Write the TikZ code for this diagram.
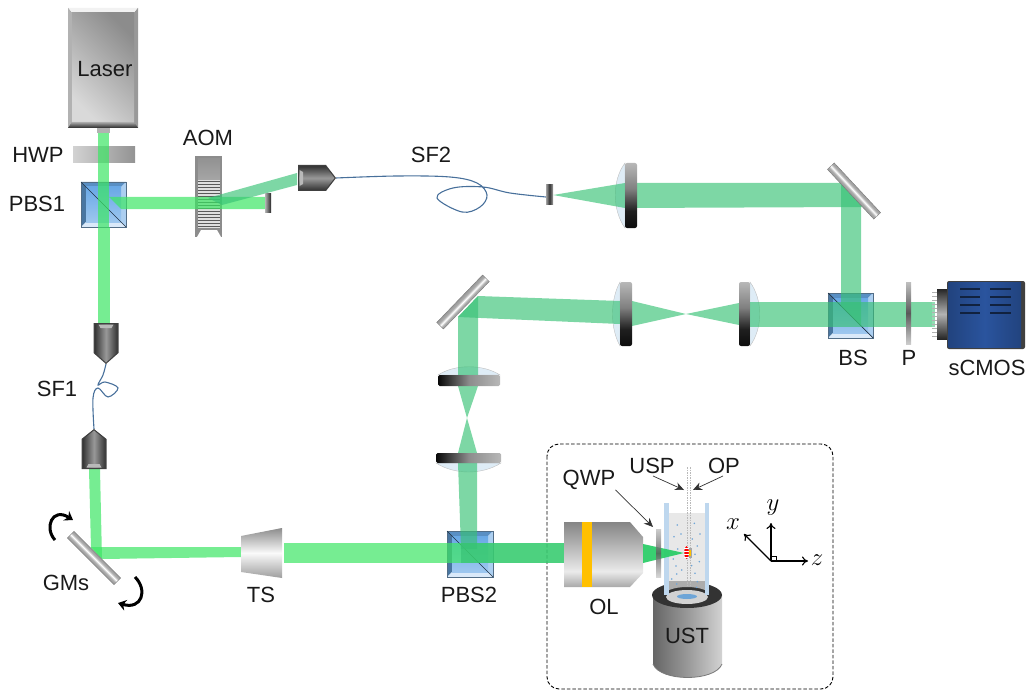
\documentclass[tikz,border=0pt]{standalone}
\usepackage{xcolor}
\usepackage{fontspec}
\setmainfont{Liberation Sans}
\usepackage{tikz}
\usetikzlibrary{arrows.meta}

\definecolor{beamin}{RGB}{60,230,100}
\definecolor{beamout}{RGB}{55,193,117}
\definecolor{cubeface}{RGB}{105,168,230}
\definecolor{camblue}{RGB}{42,84,158}
\definecolor{glass}{RGB}{222,236,246}
\definecolor{wall}{RGB}{190,215,238}
\definecolor{olband}{RGB}{255,192,0}
\definecolor{scatter}{RGB}{110,165,215}
\definecolor{fibreblue}{RGB}{72,112,155}
\definecolor{conegreen}{RGB}{45,205,105}

\pgfdeclareverticalshading{olbody}{100bp}{rgb(0bp)=(.66,.66,.66); rgb(25bp)=(.66,.66,.66); rgb(37bp)=(.92,.92,.92); rgb(50bp)=(.78,.78,.78); rgb(75bp)=(.52,.52,.52); rgb(100bp)=(.52,.52,.52)}
\pgfdeclareverticalshading{tsbody}{100bp}{rgb(0bp)=(.62,.62,.62); rgb(25bp)=(.62,.62,.62); rgb(50bp)=(.98,.98,.98); rgb(75bp)=(.55,.55,.55); rgb(100bp)=(.55,.55,.55)}
\pgfdeclareverticalshading{plate}{100bp}{rgb(0bp)=(.8,.8,.8); rgb(25bp)=(.8,.8,.8); rgb(50bp)=(.35,.35,.35); rgb(75bp)=(.75,.75,.75); rgb(100bp)=(.75,.75,.75)}
\pgfdeclareverticalshading{mirrorbody}{100bp}{rgb(0bp)=(.6,.6,.6); rgb(25bp)=(.6,.6,.6); rgb(38bp)=(.68,.68,.68); rgb(50bp)=(1,1,1); rgb(62bp)=(.68,.68,.68); rgb(75bp)=(.6,.6,.6); rgb(100bp)=(.6,.6,.6)}
\pgfdeclareverticalshading{collimbody}{100bp}{rgb(0bp)=(.22,.22,.22); rgb(25bp)=(.22,.22,.22); rgb(50bp)=(.6,.6,.6); rgb(75bp)=(.22,.22,.22); rgb(100bp)=(.22,.22,.22)}
\pgfdeclareverticalshading{stripv}{100bp}{rgb(0bp)=(.05,.05,.05); rgb(25bp)=(.05,.05,.05); rgb(38bp)=(.12,.12,.12); rgb(55bp)=(.5,.5,.5); rgb(75bp)=(.72,.72,.72); rgb(100bp)=(.72,.72,.72)}
\pgfdeclarehorizontalshading{striph}{100bp}{rgb(0bp)=(.03,.03,.03); rgb(25bp)=(.03,.03,.03); rgb(50bp)=(.55,.55,.55); rgb(75bp)=(.72,.72,.72); rgb(100bp)=(.72,.72,.72)}

\tikzset{
  lbl/.style={font=\fontsize{22}{25}\selectfont, inner sep=0pt, text=black!90},
  lblmath/.style={font=\fontsize{24}{26}\selectfont, inner sep=0pt},
  inbeam/.style={fill=beamin, fill opacity=.7},
  outbeam/.style={fill=beamout, fill opacity=.65},
  lensglass/.style={fill=glass, draw=gray!50, line width=.4pt},
  lensstripv/.style={shading=stripv, rounded corners=2pt},
  lensstriph/.style={shading=striph, rounded corners=1.5pt},
  fibre/.style={draw=fibreblue, line width=1.1pt},
  pointer/.style={draw=black!80, line width=.7pt, -{Stealth[length=9pt,width=8pt]}},
  axisline/.style={draw=black, line width=1.1pt, -{To[length=6pt,width=9pt]}},
  rotarrow/.style={draw=black, line width=3pt, -{Stealth[length=8pt,width=11pt]}},
  plane/.style={draw=gray!55, line width=.6pt, dash pattern=on 1.5pt off 1pt}
}

% cube with bevels: left, top, size
\newcommand{\bluecube}[3]{
  \begin{scope}[shift={(#1,#2)}]
    \fill[cubeface!85!black] (0,0) -- (#3,0) -- (#3-5,5) -- (5,5) -- cycle;
    \fill[cubeface!70!black] (0,0) -- (5,5) -- (5,#3-5) -- (0,#3) -- cycle;
    \fill[cubeface!55!white] (#3,0) -- (#3,#3) -- (#3-5,#3-5) -- (#3-5,5) -- cycle;
    \fill[cubeface!25!white] (0,#3) -- (#3,#3) -- (#3-5,#3-5) -- (5,#3-5) -- cycle;
    \shade[top color=cubeface, bottom color=cubeface!65!white] (5,5) rectangle (#3-5,#3-5);
    \draw[black!40!cubeface!70!gray, line width=.6pt] (0,0) rectangle (#3,#3);
    \draw[black!70!cubeface, line width=.7pt] (0,0) -- (#3,#3);
  \end{scope}
}
% fibre collimator: back centre x, y, rotation, length, half width, tip length
\newcommand{\collim}[6]{
  \begin{scope}[transform canvas={shift={(#1,#2)},rotate=#3}]
    \fill[black!75] (0,-#5) -- (#4-#6,-#5) -- (#4,0) -- (#4-#6,#5) -- (0,#5) -- cycle;
    \shade[shading=collimbody] (1.5,-#5+1.5) -- (#4-#6-.5,-#5+1.5) -- (#4-1.5,0) -- (#4-#6-.5,#5-1.5) -- (1.5,#5-1.5) -- cycle;
    \fill[gray!55] (1.5,-#5+5) -- (5,-#5+7) -- (5,#5-7) -- (1.5,#5-5) -- cycle;
  \end{scope}
}
% mirror: centre x, y, rotation, half length, half width
\newcommand{\mirrorplate}[5]{
  \begin{scope}[transform canvas={shift={(#1,#2)},rotate=#3}]
    \shade[shading=mirrorbody] (-#4,-#5) rectangle (#4,#5);
    \draw[gray!90!black, line width=.3pt] (-#4,-#5) rectangle (#4,#5);
  \end{scope}
}

\begin{document}
\begin{tikzpicture}[x=1pt,y=-1pt]
  \useasboundingbox (0,0) rectangle (1026,690);
  \draw[black, line width=.9pt, dash pattern=on 3.5pt off 2pt, rounded corners=12pt] (547,444) rectangle (833,689);

  % parts under the beams
  \shade[left color=gray!35, right color=gray!85] (73,147) rectangle (135,163);
  \fill[gray!110!black] (195,156) rectangle (222,237);
  \shade[top color=gray!85, bottom color=gray!70] (198,159) rectangle (220,180);
  \fill[gray!25] (198,180) rectangle (220,228);
  \foreach \yy in {181,184,...,226}
    \draw[black!65, line width=.6pt] (198,\yy) -- (220,\yy);
  \fill[white] (197,237) -- (201,230) -- (217,230) -- (221,237) -- cycle;
  \bluecube{81}{182}{45}
  \bluecube{828}{293}{45}
  \bluecube{447}{531}{46}
  \filldraw[lensglass] (625,163) .. controls (612,180) and (612,210) .. (625,228) -- cycle;
  \filldraw[lensglass] (620,282) .. controls (610,300) and (610,328) .. (620,346) -- cycle;
  \filldraw[lensglass] (750,282) .. controls (763,300) and (763,328) .. (750,346) -- cycle;
  \filldraw[lensglass] (438,375) .. controls (455,364) and (483,364) .. (500,375) -- cycle;
  \filldraw[lensglass] (436,463) .. controls (455,475) and (482,475) .. (501,463) -- cycle;

  % beams, from the laser on
  \fill[inbeam] (98,132) rectangle (109,227);
  \fill[inbeam] (98,227) rectangle (110,323);
  \fill[inbeam] (109,197) -- (265,197) -- (265,209) -- (121,209) -- cycle;
  \fill[outbeam] (208,198) -- (297,173) -- (297,185) -- (222,205) -- cycle;
  \fill[inbeam] (89,469) -- (100,469) -- (102,559) -- (91,548) -- cycle;
  \fill[inbeam] (91,547) -- (241,547) -- (241,557) -- (102,559) -- cycle;
  \fill[inbeam] (284,543) rectangle (564,563);
  \fill[outbeam] (553,195) -- (625,183) -- (625,208) -- cycle;
  \fill[outbeam] (625,183) -- (841,183) -- (863,207) -- (625,208) -- cycle;
  \fill[outbeam] (841,183) -- (861,205) -- (861,326) -- (841,306) -- cycle;
  \fill[outbeam] (750,302) rectangle (935,327);
  \fill[outbeam] (686,314) -- (739,303) -- (739,325) -- cycle;
  \fill[outbeam] (686,314) -- (632,301) -- (632,326) -- cycle;
  \fill[outbeam] (620,301) -- (478,296) -- (458,317) -- (620,324) -- cycle;
  \fill[outbeam] (458,317) -- (478,296) -- (478,375) -- (458,375) -- cycle;
  \fill[outbeam] (458,386) -- (478,386) -- (467,418) -- cycle;
  \fill[outbeam] (467,418) -- (477,453) -- (458,453) -- cycle;
  \fill[outbeam] (458,463) -- (477,463) -- (477,549) -- (461,549) -- cycle;
  \fill[outbeam] (461,543) rectangle (564,563);

  % lens strips and plates over the beams
  \shade[lensstripv] (625,163) rectangle (637,228);
  \shade[lensstripv] (620,282) rectangle (632,346);
  \shade[lensstripv] (739,282) rectangle (750,346);
  \shade[lensstriph] (438,375) rectangle (500,386);
  \shade[lensstriph] (436,453) rectangle (501,463);
  \shade[shading=plate] (906,282) rectangle (911,344);
  \shade[left color=gray!60, right color=black!85] (265,194) rectangle (271,212);

  % laser head
  \fill[gray!60] (97,128) rectangle (110,133);
  \fill[black!55] (68,8) rectangle (138,128);
  \fill[gray!10] (68,8) -- (138,8) -- (134,13) -- (72,13) -- cycle;
  \fill[gray!60] (68,8) -- (72,13) -- (72,122) -- (68,128) -- cycle;
  \fill[gray!80] (138,8) -- (134,13) -- (134,122) -- (138,128) -- cycle;
  \shade[left color=gray!30, right color=gray!90, shading angle=135] (72,13) rectangle (134,122);
  \shade[top color=gray!65, bottom color=black!85] (72,122) -- (134,122) -- (138,128) -- (68,128) -- cycle;

  % fibres
  \coordinate (sftopout) at (106,364);
  \coordinate (sfbotin) at (94,429);
  \coordinate (sftwoout) at (336,178);
  \coordinate (sftwoin) at (546,197);
  \draw[fibre] plot[smooth, tension=.6] coordinates {(sftopout) (103,375) (98,385) (105,382) (118,388) (108,397) (98,388) (93,398) (sfbotin)};
  \draw[fibre] plot[smooth, tension=.6] coordinates {(sftwoout) (397,176) (450,177) (477,183) (487,195) (480,207) (462,212) (437,198) (453,188) (483,187) (510,193) (sftwoin)};
  \collim{298}{178}{0}{38}{13}{10}
  \collim{106}{323}{-90}{41}{12.5}{11}
  \collim{94}{469}{90}{40}{12.5}{10}
  \shade[left color=gray!75, right color=gray!75, middle color=black!80] (546,185) rectangle (553,204);

  % mirrors
  \mirrorplate{854}{191}{-47}{34}{4.7}
  \mirrorplate{463}{302}{46}{33}{4.7}
  \mirrorplate{94}{558}{-45}{33}{4.7}
  \draw[rotarrow] (55,540) .. controls (44,528) and (52,507) .. (73,520);
  \draw[rotarrow] (135,577) .. controls (148,590) and (142,610) .. (118,603);

  % telescope stage
  \shade[shading=tsbody] (241,536) -- (282,528) -- (282,578) -- (241,572) -- cycle;

  % camera
  \fill[white] (932,289) rectangle (937,339);
  \fill[beamout!55!white] (932,302) rectangle (935,327);
  \foreach \yy in {292,296,...,338}
    \draw[gray!60, line width=.3pt] (932,\yy) -- (937,\yy);
  \shade[top color=black!85, bottom color=black!85, middle color=gray!60] (937,289) rectangle (947,339);
  \fill[black!75, rounded corners=2pt] (947,281) rectangle (1025,349);
  \shade[left color=camblue!80!black, right color=camblue!80!black, middle color=camblue] (948.5,282.5) rectangle (1021,347.5);
  \foreach \yy in {289,297,305,313} {
    \draw[black!60!camblue, line width=1.8pt] (960,\yy) -- (980,\yy);
    \draw[black!60!camblue, line width=1.8pt] (990,\yy) -- (1011,\yy);
  }

  % objective
  \shade[shading=olbody] (564,522) -- (630,522) -- (643,537) -- (643,573) -- (630,587) -- (564,587) -- cycle;
  \fill[olband] (582,522) rectangle (592,587);

  % transducer
  \shade[left color=gray!80!black, right color=gray!35, middle color=gray!80] (653,595) -- (653,664) .. controls (660,682) and (715,682) .. (722,664) -- (722,595) -- cycle;
  \draw[gray!95!black, line width=.8pt] (653,664) .. controls (660,682) and (715,682) .. (722,664);
  \fill[black!80] (687,595) ellipse (35 and 13);
  \fill[gray!65] (669,580) -- (705,580) -- (705,590) .. controls (695,586) and (679,586) .. (669,590) -- cycle;
  \fill[gray!35] (687,597) ellipse (21 and 7);
  \fill[scatter] (687,596.5) ellipse (10 and 2.5);

  % cuvette with the sample
  \fill[gray!18] (669,513) rectangle (705,581);
  \foreach \dotx/\doty in {112/75,163/70,102/110,123/102,180/102,157/117,172/138,113/147,165/163,100/177,178/185,108/198,155/197,125/210,110/222,165/220,95/237,172/245,170/262,110/252}
    \fill[scatter] (640+\dotx/3,500+\doty/3) circle (.9);
  \fill[wall] (664,503) rectangle (669,595);
  \fill[wall] (705,503) rectangle (709,595);
  \draw[plane] (687,467) -- (687,585);
  \draw[plane] (690,467) -- (690,585);
  \fill[fill=conegreen, fill opacity=.95] (643,544) -- (684,553) -- (643,563) -- cycle;
  \shade[shading=plate, fill opacity=.8] (656,529) rectangle (661,577);
  \fill[gray!70] (688,548) rectangle (692,558);
  \fill[olband] (689,550) rectangle (691,556);
  \fill[red] (686.5,552.5) ellipse (2.2 and 6.4);
  \foreach \yy in {548,551,...,557}
    \draw[white, line width=.25pt] (684,\yy) -- (689,\yy);

  % axes
  \coordinate (orig) at (771,561);
  \coordinate (xtip) at (744,534);
  \coordinate (ytip) at (771,523);
  \coordinate (ztip) at (808,561);
  \draw[axisline] (orig) -- (xtip);
  \draw[axisline] (orig) -- (ytip);
  \draw[axisline] (orig) -- (ztip);
  \draw[black, line width=.4pt] (771,556) rectangle (776,561);
  \node[lblmath] (xlabel) at (733,524) {$x$};
  \node[lblmath] (ylabel) at (773,508) {$y$};
  \node[lblmath] (zlabel) at (817,560) {$z$};

  % labels
  \node[lbl] (laser) at (105,69) {Laser};
  \node[lbl] (hwp) at (38,155) {HWP};
  \node[lbl] (pbsone) at (37,204) {PBS1};
  \node[lbl] (aom) at (208,138) {AOM};
  \node[lbl] (sftwo) at (431,155) {SF2};
  \node[lbl] (sfone) at (57,389) {SF1};
  \node[lbl] (gms) at (66,583) {GMs};
  \node[lbl] (ts) at (261,595) {TS};
  \node[lbl] (pbstwo) at (469,595) {PBS2};
  \node[lbl] (bs) at (853,358) {BS};
  \node[lbl] (pol) at (909,358) {P};
  \node[lbl] (scmos) at (987,368) {sCMOS};
  \node[lbl] (ol) at (604,607) {OL};
  \node[lbl] (ust) at (687,636) {UST};
  \node[lbl] (qwp) at (589,480) {QWP};
  \node[lbl] (usp) at (652,466) {USP};
  \node[lbl] (op) at (724,466) {OP};
  \coordinate (qwptip) at (653,527);
  \coordinate (usptip) at (684,490);
  \coordinate (optip) at (693,490);
  \draw[pointer] (qwp.south east) -- (qwptip);
  \draw[pointer] (usp.south) ++(1,2) -- (usptip);
  \draw[pointer] (op.south) ++(-1,2) -- (optip);
\end{tikzpicture}
\end{document}
